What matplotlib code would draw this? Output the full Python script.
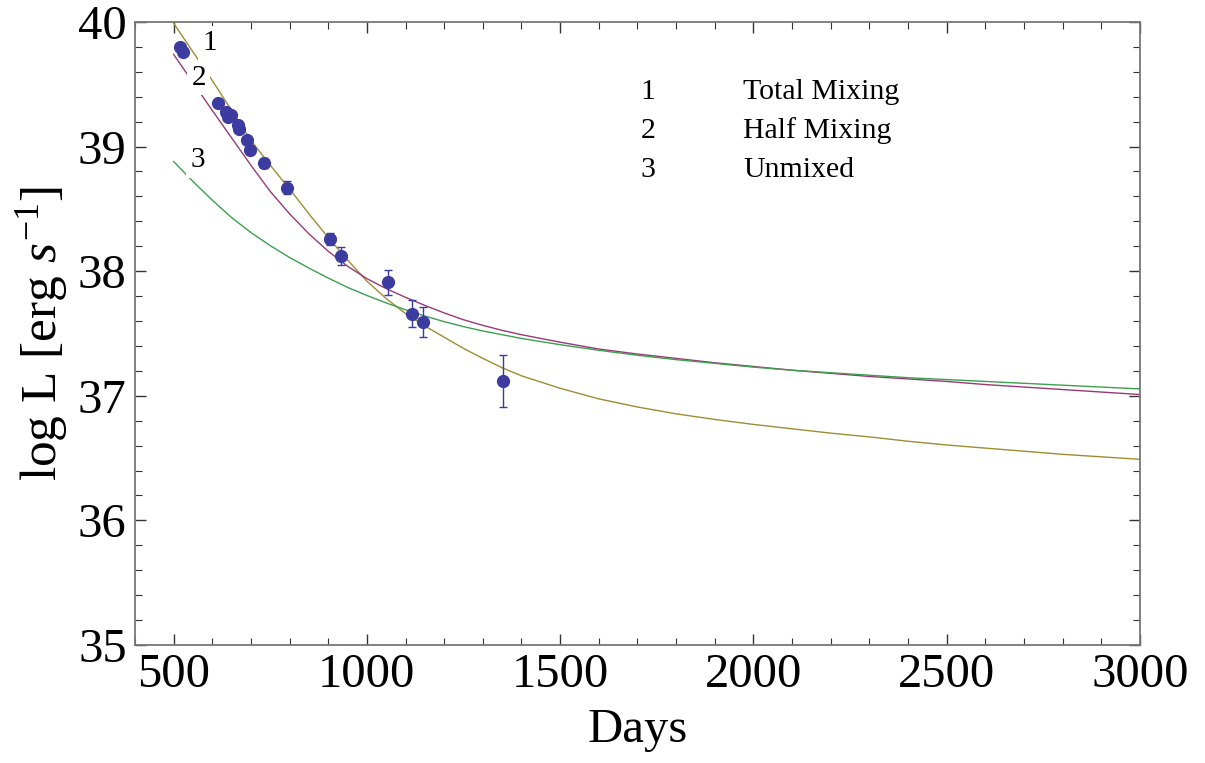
import matplotlib
matplotlib.use("Agg")
import matplotlib.pyplot as plt
from matplotlib.ticker import MultipleLocator

plt.rcParams['font.family'] = ['Liberation Serif', 'DejaVu Serif']
plt.rcParams['mathtext.fontset'] = 'custom'
plt.rcParams['mathtext.rm'] = 'Liberation Serif'
plt.rcParams['mathtext.it'] = 'Liberation Serif:italic'

# Observed bolometric luminosity
obs_days = [515.5, 524, 614.7, 634.6, 640.6, 649.4, 666.5, 669, 689.8, 696.8,
            733, 792.6, 904, 934, 1055, 1115.5, 1144, 1352]
obs_logL = [39.80, 39.76, 39.35, 39.28, 39.24, 39.25, 39.17, 39.14, 39.05, 38.97,
            38.87, 38.67, 38.26, 38.12, 37.91, 37.66, 37.59, 37.12]
obs_err = [0.02, 0.02, 0.02, 0.02, 0.02, 0.02, 0.02, 0.03, 0.02, 0.02,
           0.04, 0.05, 0.05, 0.07, 0.10, 0.11, 0.12, 0.21]

# Model light curves (sampled every 50-100 days)
model_days = [500, 550, 600, 650, 700, 750, 800, 850, 900, 950, 1000, 1050,
              1100, 1150, 1200, 1250, 1300, 1350, 1400, 1500, 1600, 1700,
              1800, 1900, 2000, 2100, 2200, 2300, 2400, 2500, 2600, 2700,
              2800, 2900, 3000]
total_logL = [39.99, 39.76, 39.53, 39.29, 39.05, 38.85, 38.66, 38.46, 38.27,
              38.09, 37.92, 37.78, 37.66, 37.56, 37.47, 37.38, 37.30, 37.225,
              37.16, 37.06, 36.975, 36.91, 36.855, 36.81, 36.77, 36.735, 36.70,
              36.67, 36.635, 36.605, 36.58, 36.555, 36.53, 36.51, 36.49]
half_logL = [39.74, 39.515, 39.29, 39.07, 38.85, 38.64, 38.46, 38.30, 38.16,
             38.04, 37.94, 37.86, 37.79, 37.725, 37.665, 37.61, 37.565, 37.525,
             37.49, 37.43, 37.375, 37.335, 37.30, 37.265, 37.235, 37.205,
             37.18, 37.155, 37.135, 37.115, 37.09, 37.07, 37.05, 37.03, 37.01]
unmixed_logL = [38.88, 38.72, 38.57, 38.43, 38.31, 38.205, 38.11, 38.025,
                37.945, 37.87, 37.805, 37.745, 37.69, 37.64, 37.595, 37.555,
                37.52, 37.49, 37.46, 37.41, 37.365, 37.325, 37.29, 37.26, 37.23,
                37.205, 37.185, 37.165, 37.145, 37.13, 37.115, 37.10, 37.085,
                37.07, 37.055]

model_names = ["Total Mixing", "Half Mixing", "Unmixed"]
model_ids = ["1", "2", "3"]

c_total = "#a08c32"
c_half = "#983a78"
c_unmixed = "#3ca050"
c_obs = "#3c3ca0"

fig = plt.figure(figsize=(12.05, 7.63), dpi=100)
ax = fig.add_axes([0.112, 0.1547, 0.834, 0.8165])

ax.plot(model_days, total_logL, color=c_total, lw=1.0, zorder=2)
ax.plot(model_days, half_logL, color=c_half, lw=1.0, zorder=2)
ax.plot(model_days, unmixed_logL, color=c_unmixed, lw=1.0, zorder=2)

ax.errorbar(obs_days, obs_logL, yerr=obs_err, fmt='o', color=c_obs,
            ms=8.5, elinewidth=1.0, capsize=3, capthick=1.0, zorder=5)

# curve labels
lab_kw = dict(fontsize=21, ha='center', va='center', zorder=3,
              bbox=dict(boxstyle='square,pad=0.15', fc='white', ec='none'))
ax.text(593, 39.83, "1", **lab_kw)
ax.text(565, 39.55, "2", **lab_kw)
ax.text(562, 38.89, "3", **lab_kw)

# key
for i, (num, name) in enumerate(zip(model_ids, model_names)):
    y = 39.44 - i * 0.315
    ax.text(1727, y, num, fontsize=21.5, ha='center', va='center')
    ax.text(1973, y, name, fontsize=21.5, ha='left', va='center')

ax.set_xlim(400, 3000)
ax.set_ylim(35, 40)
ax.xaxis.set_major_locator(MultipleLocator(500))
ax.xaxis.set_minor_locator(MultipleLocator(100))
ax.yaxis.set_major_locator(MultipleLocator(1))
ax.yaxis.set_minor_locator(MultipleLocator(0.2))
ax.tick_params(which='both', direction='in', top=True, right=True,
               labelsize=35, color='#333333')
ax.tick_params(which='major', length=8, width=1.0, pad=6)
ax.tick_params(which='minor', length=5, width=0.8)
for s in ax.spines.values():
    s.set_color('#777777')
    s.set_linewidth(1.3)

ax.set_xlabel("Days", fontsize=35, labelpad=8)
ax.set_ylabel(r"log L [erg $s^{-1}$]", fontsize=37, labelpad=6)

fig.savefig("out.png", dpi=100)
